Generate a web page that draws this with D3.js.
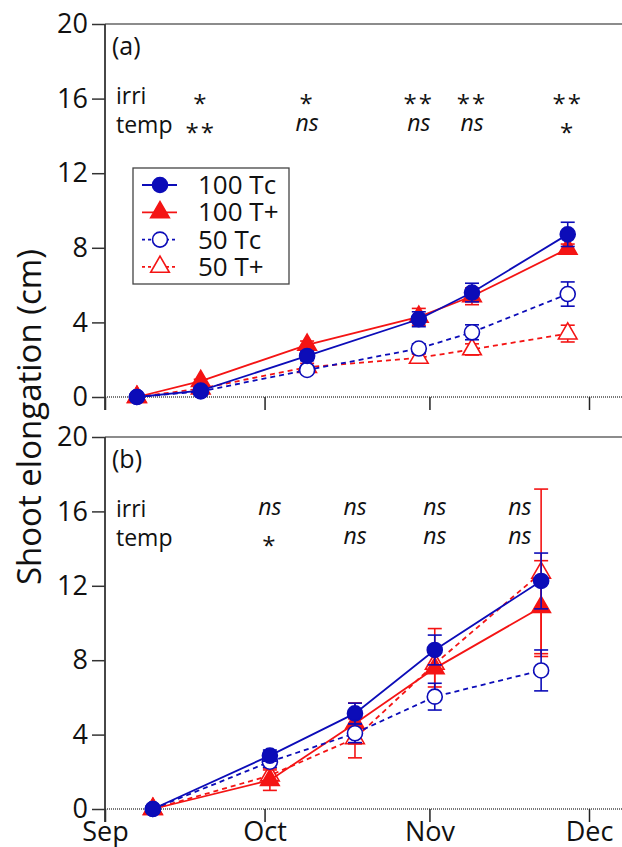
<!DOCTYPE html>
<html>
<head>
<meta charset="utf-8">
<script src="https://cdn.jsdelivr.net/npm/d3@7"></script>
<style>
  body { margin: 0; background: #fff; }
  svg { display: block; }
  text { font-family: "Open Sans", sans-serif; fill: #111; }
</style>
</head>
<body>
<script>
(function() {
    "use strict";
    var parse = d3.timeParse("%Y-%m-%d");

    // series names, in legend order
    var seriesNames = ["100 Tc", "100 T+", "50 Tc", "50 T+"];

    // panel (a): sampling dates, means and errors
    var datesA = ["2000-09-07", "2000-09-19", "2000-10-09", "2000-10-30", "2000-11-09", "2000-11-27"];
    var tc100A = [0, 0.34, 2.2, 4.17, 5.6, 8.72];
    var tc100ErrA = [0, 0.15, 0.25, 0.4, 0.5, 0.65];
    var tp100A = [0, 0.85, 2.8, 4.3, 5.4, 7.95];
    var tp100ErrA = [0, 0.1, 0.2, 0.45, 0.45, 0.25];
    var tc50A = [0, 0.3, 1.45, 2.6, 3.47, 5.52];
    var tc50ErrA = [0, 0.1, 0.2, 0.25, 0.4, 0.65];
    var tp50A = [0, 0.45, 1.6, 2.1, 2.55, 3.4];
    var tp50ErrA = [0, 0.1, 0.2, 0.2, 0.3, 0.45];
    var sigDatesA = ["2000-09-19", "2000-10-09", "2000-10-30", "2000-11-09", "2000-11-27"];
    var irriA = ["*", "*", "**", "**", "**"];
    var tempA = ["**", "ns", "ns", "ns", "*"];

    // panel (b)
    var datesB = ["2000-09-10", "2000-10-02", "2000-10-18", "2000-11-02", "2000-11-22"];
    var tc100B = [0, 2.87, 5.14, 8.55, 12.26];
    var tc100ErrB = [0, 0.3, 0.55, 0.8, 1.5];
    var tp100B = [0, 1.55, 4.6, 7.56, 10.85];
    var tp100ErrB = [0, 0.55, 1.1, 1.0, 2.5];
    var tc50B = [0, 2.54, 4.07, 6.04, 7.45];
    var tc50ErrB = [0, 0.3, 0.5, 0.72, 1.1];
    var tp50B = [0, 1.8, 3.8, 7.8, 12.7];
    var tp50ErrB = [0, 0.4, 1.05, 1.9, 4.5];
    var sigDatesB = ["2000-10-02", "2000-10-18", "2000-11-02", "2000-11-18"];
    var irriB = ["ns", "ns", "ns", "ns"];
    var tempB = ["*", "ns", "ns", "ns"];

    var yTicks = [0, 4, 8, 12, 16, 20];
    var monthTicks = ["2000-09-01", "2000-10-01", "2000-11-01", "2000-12-01"];

    var WIDTH = 622, HEIGHT = 847;
    var LEFT = 105, RIGHT = 589;
    var BLUE = "#0c0cb8", RED = "#f41414";

    // style of each series: colour, filled or open, marker, dashed
    var styles = [
        { color: BLUE, fill: true, shape: "circle", dash: null },
        { color: RED, fill: true, shape: "triangle", dash: null },
        { color: BLUE, fill: false, shape: "circle", dash: "5,4" },
        { color: RED, fill: false, shape: "triangle", dash: "5,4" }
    ];

    var svg = d3.select("body").append("svg")
        .attr("width", WIDTH)
        .attr("height", HEIGHT);

    var x = d3.scaleTime()
        .domain([parse("2000-09-01"), parse("2000-12-01")])
        .range([LEFT, RIGHT]);

    function marker(sel, st) {
        if (st.shape === "circle") {
            sel.append("circle").attr("r", 7.5);
        } else {
            sel.append("path").attr("d", d3.symbol(d3.symbolTriangle, 150)());
        }
        sel.selectAll("circle, path")
            .attr("fill", st.fill ? st.color : "#fff")
            .attr("stroke", st.color)
            .attr("stroke-width", 1.6);
    }

    function drawPanel(opt) {
        var y = d3.scaleLinear().domain([0, 20]).range([opt.bottom, opt.top]);
        var g = svg.append("g");

        //frame top line
        g.append("line")
            .attr("x1", LEFT).attr("x2", WIDTH)
            .attr("y1", opt.top).attr("y2", opt.top)
            .attr("stroke", "#666").attr("stroke-width", 1.5);

        //x axis (zero line) with month ticks
        g.append("line")
            .attr("x1", LEFT).attr("x2", WIDTH)
            .attr("y1", y(0)).attr("y2", y(0))
            .attr("stroke", "#777").attr("stroke-width", 2)
            .attr("stroke-dasharray", "1,1");
        var xAxis = g.append("g")
            .attr("transform", "translate(0," + y(0) + ")")
            .call(d3.axisBottom(x)
                .tickValues(monthTicks.map(parse))
                .tickSize(13)
                .tickPadding(0)
                .tickFormat(opt.xLabels ? d3.timeFormat("%b") : ""));
        xAxis.select(".domain").remove();
        xAxis.selectAll("line").attr("stroke", "#222").attr("stroke-width", 1.5);
        xAxis.selectAll("text")
            .attr("font-size", 27)
            .attr("font-family", "Open Sans, sans-serif")
            .attr("fill", "#111");

        //y axis
        var yAxis = g.append("g")
            .attr("transform", "translate(" + LEFT + ",0)")
            .call(d3.axisLeft(y).tickValues(yTicks).tickSize(13).tickPadding(4));
        yAxis.select(".domain").remove();
        g.append("line")
            .attr("x1", LEFT).attr("x2", LEFT)
            .attr("y1", opt.top).attr("y2", y(0) + 13)
            .attr("stroke", "#333").attr("stroke-width", 1.8);
        yAxis.selectAll("line").attr("stroke", "#333").attr("stroke-width", 1.5);
        yAxis.selectAll("text")
            .attr("font-size", 27)
            .attr("font-family", "Open Sans, sans-serif")
            .attr("fill", "#111");

        //panel label
        g.append("text")
            .attr("x", 112).attr("y", opt.top + 31)
            .attr("font-size", 25)
            .text(opt.label);

        //significance rows
        var rows = [
            { name: "irri", marks: opt.irri, base: opt.top + 80 },
            { name: "temp", marks: opt.temp, base: opt.top + 109 }
        ];
        rows.forEach(function(r) {
            g.append("text")
                .attr("x", 116).attr("y", r.base)
                .attr("font-size", 23)
                .text(r.name);
            g.selectAll(null)
                .data(r.marks)
                .enter()
                .append("text")
                .attr("x", function(d, i) { return x(parse(opt.sigDates[i])); })
                .attr("y", function(d) { return d === "ns" ? r.base - 2 : r.base + 8; })
                .attr("text-anchor", "middle")
                .attr("font-size", function(d) { return d === "ns" ? 23 : 24; })
                .attr("font-style", function(d) { return d === "ns" ? "italic" : "normal"; })
                .attr("letter-spacing", function(d) { return d === "ns" ? 0 : 2; })
                .text(function(d) { return d; });
        });

        //series, drawn back to front
        var order = [3, 1, 2, 0];
        order.forEach(function(k) {
            var st = styles[k];
            var pts = opt.dates.map(function(dt, i) {
                return { x: x(parse(dt)), v: opt.values[k][i], e: opt.errors[k][i] };
            });
            var sg = g.append("g");
            sg.append("path")
                .datum(pts)
                .attr("fill", "none")
                .attr("stroke", st.color)
                .attr("stroke-width", 1.8)
                .attr("stroke-dasharray", st.dash)
                .attr("d", d3.line()
                    .x(function(d) { return d.x; })
                    .y(function(d) { return y(d.v); }));
            //error bars
            var eb = sg.selectAll(".eb")
                .data(pts.filter(function(d) { return d.e > 0; }))
                .enter()
                .append("g")
                .attr("stroke", st.color)
                .attr("stroke-width", 1.6);
            eb.append("line")
                .attr("x1", function(d) { return d.x; })
                .attr("x2", function(d) { return d.x; })
                .attr("y1", function(d) { return y(d.v - d.e); })
                .attr("y2", function(d) { return y(d.v + d.e); });
            [-1, 1].forEach(function(s) {
                eb.append("line")
                    .attr("x1", function(d) { return d.x - 7; })
                    .attr("x2", function(d) { return d.x + 7; })
                    .attr("y1", function(d) { return y(d.v + s * d.e); })
                    .attr("y2", function(d) { return y(d.v + s * d.e); });
            });
            sg.selectAll(".mk")
                .data(pts)
                .enter()
                .append("g")
                .attr("transform", function(d) { return "translate(" + d.x + "," + y(d.v) + ")"; })
                .each(function() { marker(d3.select(this), st); });
        });
        return y;
    }

    drawPanel({
        top: 24, bottom: 397, label: "(a)", xLabels: false,
        dates: datesA,
        values: [tc100A, tp100A, tc50A, tp50A],
        errors: [tc100ErrA, tp100ErrA, tc50ErrA, tp50ErrA],
        sigDates: sigDatesA, irri: irriA, temp: tempA
    });
    drawPanel({
        top: 437, bottom: 809, label: "(b)", xLabels: true,
        dates: datesB,
        values: [tc100B, tp100B, tc50B, tp50B],
        errors: [tc100ErrB, tp100ErrB, tc50ErrB, tp50ErrB],
        sigDates: sigDatesB, irri: irriB, temp: tempB
    });

    //legend in panel (a)
    var lg = svg.append("g");
    lg.append("rect")
        .attr("x", 133).attr("y", 168)
        .attr("width", 156).attr("height", 116)
        .attr("fill", "#fff")
        .attr("stroke", "#444").attr("stroke-width", 1.3);
    seriesNames.forEach(function(name, i) {
        var st = styles[i];
        var cy = 185 + i * 27.3;
        lg.append("line")
            .attr("x1", 142).attr("x2", 177)
            .attr("y1", cy).attr("y2", cy)
            .attr("stroke", st.color).attr("stroke-width", 1.8)
            .attr("stroke-dasharray", st.dash ? "3,3" : null);
        var m = lg.append("g").attr("transform", "translate(160," + cy + ")");
        marker(m, st);
        lg.append("text")
            .attr("x", 198).attr("y", cy + 9)
            .attr("font-family", "Liberation Sans, Arial, sans-serif")
            .attr("font-size", 26)
            .text(name);
    });

    //y axis title, shared by both panels
    svg.append("text")
        .attr("transform", "translate(41,417) rotate(-90)")
        .attr("text-anchor", "middle")
        .attr("font-size", 33)
        .text("Shoot elongation (cm)");
}());
</script>
</body>
</html>
